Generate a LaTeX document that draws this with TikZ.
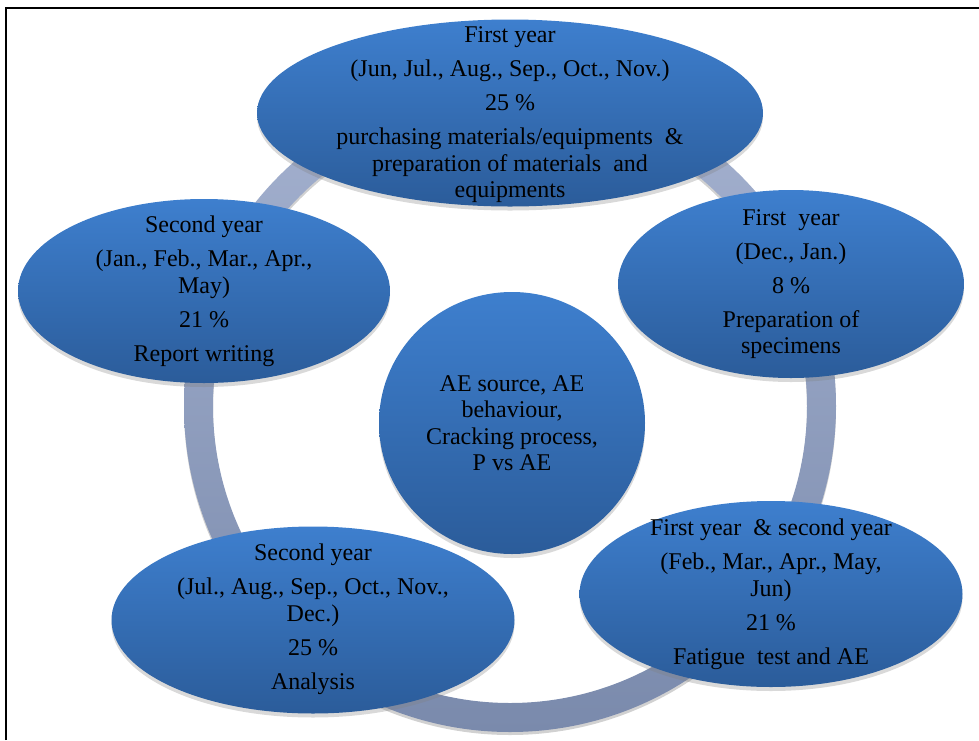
\documentclass[tikz,border=0pt]{standalone}
\usepackage{fontspec}
\setmainfont{Liberation Serif}
\usetikzlibrary{shapes.geometric,shadows}
\definecolor{ringtop}{RGB}{165,178,208}
\definecolor{ringbot}{RGB}{122,138,172}
\definecolor{blutop}{RGB}{62,127,206}
\definecolor{blubot}{RGB}{43,92,154}
\tikzset{
  blob/.style 2 args={ellipse, inner sep=0pt, minimum width=#1*0.75pt, minimum height=#2*0.75pt,
    top color=blutop, bottom color=blubot, draw=none,
    drop shadow={opacity=0.3, shadow xshift=0pt, shadow yshift=-3pt}},
  txt/.style={align=center, inner sep=0pt, text=black,
    font=\fontsize{18}{19.9}\selectfont},
  frameline/.style={line width=1.6pt, black}
}
\newcommand{\pgap}{\\[5.6pt]}
\begin{document}
\begin{tikzpicture}[x=0.75pt,y=-0.75pt]
\useasboundingbox (0,0) rectangle (979,740);
% frame
\coordinate (fl) at (6,740);
\coordinate (fc) at (6,8);
\coordinate (fr) at (979,8);
\draw[frameline] (fl) -- (fc) -- (fr);
% ring with soft shadow
\coordinate (rc) at (510,406);
\coordinate (rs) at (510,409);
\fill[black, opacity=0.18, even odd rule] (rs) circle (326) (rs) circle (297);
\shade[top color=ringtop, bottom color=ringbot, even odd rule]
  (rc) circle (326) (rc) circle (297);
% shapes
\node[blob={266}{262}] (c) at (512,423) {};
\node[blob={506}{187}] (t) at (510,113) {};
\node[blob={346}{188}] (r) at (791,284) {};
\node[blob={372}{184}] (l) at (204,291) {};
\node[blob={403}{187}] (bl) at (313,620) {};
\node[blob={383}{186}] (br) at (771,594) {};
% texts
\node[txt] (ct) at (c.center) {AE source, AE\\behaviour,\\Cracking process,\\P vs AE};
\node[txt] (tt) at (510,115) {First year\pgap (Jun, Jul., Aug., Sep., Oct., Nov.)\pgap 25 \%\pgap purchasing materials/equipments\ \ \&\\preparation of materials\ \ and\\equipments};
\node[txt] (rt) at (791,284) {First\ \ year\pgap (Dec., Jan.)\pgap 8 \%\pgap Preparation of\\specimens};
\node[txt] (lt) at (204,291) {Second year\pgap (Jan., Feb., Mar.,\ Apr.,\\May)\pgap 21 \%\pgap Report writing};
\node[txt] (blt) at (313,619) {Second year\pgap (Jul., Aug.,\ Sep., Oct., Nov.,\\Dec.)\pgap 25 \%\pgap Analysis};
\node[txt] (brt) at (771,594) {First year \ \& second year\pgap (Feb., Mar.,\ Apr., May,\\Jun)\pgap 21 \%\pgap Fatigue\ \ test and AE};
\end{tikzpicture}
\end{document}
